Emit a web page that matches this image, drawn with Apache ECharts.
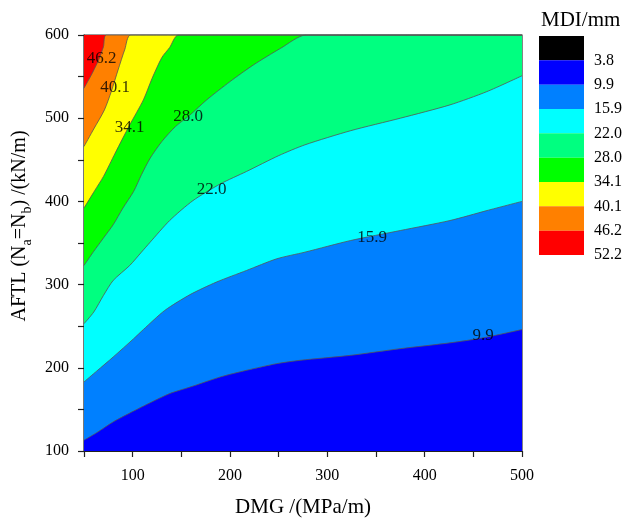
<!DOCTYPE html>
<html>
<head>
<meta charset="utf-8">
<script src="https://cdn.jsdelivr.net/npm/echarts@6/dist/echarts.min.js"></script>
<style>html,body{margin:0;padding:0;background:#fff}#c{width:625px;height:523px}</style>
</head>
<body>
<div id="c"></div>
<script>
// contour levels and band colours (band i lies below levels[i])
const levels = [3.8, 9.9, 15.9, 22.0, 28.0, 34.1, 40.1, 46.2, 52.2];
const bandColors = ['#000000', '#0000FF', '#0080FF', '#00FFFF', '#00FF80', '#00FF00', '#FFFF00', '#FF8000', '#FF0000'];

// x tick / y tick labels
const xTicks = [100, 200, 300, 400, 500];
const yTicks = [100, 200, 300, 400, 500, 600];

// contour boundary curves [DMG, AFTL]
const c9_9  = [[50,113],[63,122],[80,135],[101,148],[118,158],[138,169],[162,178],[190,189],[217,197],[248,205],[272,209],[324,215],[375,223],[426,230],[460,236],[500,246]];
const c15_9 = [[50,183],[63,196],[80,213],[101,235],[111,246],[133,269],[159,288],[186,303],[217,317],[248,331],[277,339],[324,353],[375,365],[426,377],[464,389],[500,400]];
const c22_0 = [[50,253],[60,267],[70,287],[80,305],[97,323],[109,339],[118,351],[138,377],[162,401],[190,421],[217,436],[250,455],[277,468],[324,485],[375,500],[426,516],[464,532],[500,551]];
const c28_0 = [[50,323],[60,340],[70,356],[80,372],[90,392],[101,412],[109,432],[118,452],[130,472],[144,490],[159,504],[176,522],[200,544],[224,564],[252,584],[278,600],[500,600]];
const c34_1 = [[50,392],[61,413],[70,430],[82,458],[97,492],[111,522],[120,548],[130,573],[138,585],[147,600],[500,600]];
const c40_1 = [[50,466],[60,487],[71,510],[78,532],[85,558],[92,583],[98,600],[500,600]];
const c46_2 = [[50,536],[58,553],[65,570],[70,586],[73,600],[500,600]];
const topEdge = [[50,600],[500,600]];

// contour label positions
const labelText = ['46.2', '40.1', '34.1', '28.0', '22.0', '15.9', '9.9'];
const labelX = [68, 82, 97, 157, 181, 346, 460];
const labelY = [572, 537, 489, 502, 414, 357, 239];

const SERIF = '"Liberation Serif","Times New Roman",serif';
const chart = echarts.init(document.getElementById('c'), null, {renderer: 'canvas'});

// boundaries from top band downward: each fills below with the next-lower band colour
const boundaries = [
  {d: topEdge, c: bandColors[8]},
  {d: c46_2, c: bandColors[7]},
  {d: c40_1, c: bandColors[6]},
  {d: c34_1, c: bandColors[5]},
  {d: c28_0, c: bandColors[4]},
  {d: c22_0, c: bandColors[3]},
  {d: c15_9, c: bandColors[2]},
  {d: c9_9,  c: bandColors[1]}
];

const series = boundaries.map((b, i) => ({
  type: 'line',
  xAxisIndex: 0, yAxisIndex: 0,
  data: b.d,
  smooth: 0.25,
  symbol: 'none',
  clip: true,
  lineStyle: {color: '#555', width: i === 0 ? 0 : 0.8},
  areaStyle: {color: b.c, opacity: 1, origin: 'start'},
  silent: true
}));

series.push({
  type: 'scatter',
  xAxisIndex: 0, yAxisIndex: 0,
  symbolSize: 0,
  data: labelText.map((t, i) => [labelX[i], labelY[i], t]),
  label: {
    show: true, position: 'inside',
    formatter: p => p.value[2],
    fontFamily: SERIF, fontSize: 17, color: '#000'
  },
  z: 10
});

// legend colour bar
bandColors.forEach((col, i) => {
  series.push({
    type: 'bar', xAxisIndex: 1, yAxisIndex: 1,
    stack: 'legend', barWidth: '100%',
    data: [1], itemStyle: {color: col}, silent: true
  });
});

chart.setOption({
  animation: false,
  backgroundColor: '#fff',
  title: {
    text: 'MDI/mm', left: 541, top: 10, padding: 0,
    textStyle: {fontFamily: SERIF, fontSize: 21, fontWeight: 'normal', color: '#000'}
  },
  grid: [
    {left: 84, top: 35, width: 438, height: 420, show: true, borderColor: '#333', borderWidth: 1.2, backgroundColor: 'transparent'},
    {left: 539, top: 36, width: 45, height: 219}
  ],
  xAxis: [
    {
      gridIndex: 0, type: 'value', min: 50, max: 500, interval: 50,
      name: 'DMG /(MPa/m)', nameLocation: 'middle', nameGap: 46,
      nameTextStyle: {fontFamily: SERIF, fontSize: 21, color: '#000'},
      axisLine: {show: true, onZero: false, lineStyle: {color: '#222', width: 1.2}},
      axisTick: {show: true, inside: false, length: 6, lineStyle: {color: '#222', width: 1.2}},
      axisLabel: {margin: 17, fontFamily: SERIF, fontSize: 16, color: '#000',
        formatter: v => xTicks.indexOf(v) >= 0 ? String(v) : ''},
      splitLine: {show: false}
    },
    {gridIndex: 1, type: 'category', data: [''], show: false}
  ],
  yAxis: [
    {
      gridIndex: 0, type: 'value', min: 100, max: 600, interval: 50,
      name: 'AFTL (N{s|a}=N{s|b}) /(kN/m)', nameLocation: 'middle', nameGap: 42, nameRotate: 90,
      nameTextStyle: {fontFamily: SERIF, fontSize: 20, color: '#000', padding: [0, 0, 0, 34],
        rich: {s: {fontFamily: SERIF, fontSize: 14, color: '#000', verticalAlign: 'bottom', padding: [0, 0, -4, 0]}}},
      axisLine: {show: true, onZero: false, lineStyle: {color: '#222', width: 1.2}},
      axisTick: {show: true, inside: false, length: 6, lineStyle: {color: '#222', width: 1.2}},
      axisLabel: {margin: 15, fontFamily: SERIF, fontSize: 16, color: '#000',
        formatter: v => yTicks.indexOf(v) >= 0 ? String(v) : ''},
      splitLine: {show: false}
    },
    {
      gridIndex: 1, type: 'value', min: 0, max: 9, interval: 1, inverse: true, position: 'right',
      axisLine: {show: false}, axisTick: {show: false}, splitLine: {show: false},
      axisLabel: {margin: 10, fontFamily: SERIF, fontSize: 16, color: '#000',
        formatter: v => v >= 1 ? levels[v - 1].toFixed(1) : ''}
    }
  ],
  series: series
});
</script>
</body>
</html>
